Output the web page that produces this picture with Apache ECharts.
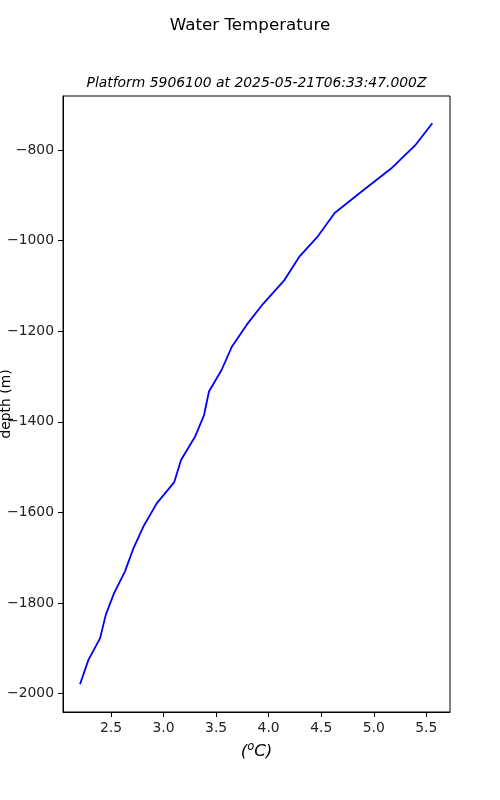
<!DOCTYPE html>
<html>
<head>
<meta charset="utf-8">
<script src="https://cdn.jsdelivr.net/npm/echarts@6/dist/echarts.min.js"></script>
<style>html,body{margin:0;padding:0;background:#fff}#c{width:500px;height:800px}</style>
</head>
<body>
<div id="c"></div>
<script>
const temperature = [5.557, 5.393, 5.165, 4.90, 4.628, 4.47, 4.29, 4.15, 3.945, 3.79, 3.648, 3.553, 3.432, 3.385, 3.299, 3.166, 3.102, 2.935, 2.808, 2.713, 2.633, 2.529, 2.45, 2.395, 2.284, 2.205];
const depth = [-741, -790, -841, -889, -939, -990, -1036, -1087, -1140, -1186, -1235, -1285, -1333, -1385, -1433, -1484, -1533, -1580, -1631, -1679, -1730, -1778, -1826, -1878, -1926, -1979];
const xTicks = [2.5, 3.0, 3.5, 4.0, 4.5, 5.0, 5.5];
const yTicks = [-2000, -1800, -1600, -1400, -1200, -1000, -800];

const chart = echarts.init(document.getElementById('c'), null, {renderer: 'canvas'});
const font = 'DejaVu Sans';
const fmtY = v => (v < 0 ? '\u2212' : '') + Math.abs(Math.round(v));
chart.setOption({
  animation: false,
  backgroundColor: '#fff',
  title: [
    {text: 'Water Temperature', left: 250, top: 17, padding: 0, textAlign: 'center',
     textStyle: {fontFamily: font, fontSize: 16.7, fontWeight: 'normal', color: '#000'}},
    {text: 'Platform 5906100 at 2025-05-21T06:33:47.000Z', left: 256.5, top: 76, padding: 0, textAlign: 'center',
     textStyle: {fontFamily: font, fontSize: 13.9, fontStyle: 'italic', fontWeight: 'normal', color: '#000'}}
  ],
  graphic: [{
    type: 'text', x: 6, y: 404, rotation: Math.PI / 2,
    style: {text: 'depth (m)', fontFamily: font, fontSize: 13.9, fill: '#000', align: 'center', verticalAlign: 'middle'}
  }],
  grid: {left: 63, right: 50, top: 96, bottom: 88, containLabel: false, outerBoundsMode: 'none',
         show: true, borderColor: '#000', borderWidth: 1, backgroundColor: 'transparent'},
  xAxis: {
    type: 'value', min: 2.043, max: 5.7255,
    name: '{p|(}{s|o}{p|C)}', nameLocation: 'middle', nameGap: 29,
    nameTextStyle: {rich: {
      p: {fontFamily: font, fontSize: 16.7, fontStyle: 'italic', color: '#000'},
      s: {fontFamily: font, fontSize: 11.5, fontStyle: 'italic', color: '#000', verticalAlign: 'top', padding: [0,0,9,0]}
    }},
    axisLine: {show: true, onZero: false, lineStyle: {color: '#000', width: 1}},
    axisTick: {show: true, customValues: xTicks, length: 5, lineStyle: {color: '#000'}},
    axisLabel: {customValues: xTicks, formatter: v => v.toFixed(1), fontFamily: font, fontSize: 13.9, color: '#222', margin: 9},
    splitLine: {show: false}
  },
  yAxis: {
    type: 'value', min: -2040.4, max: -680.8,
    axisLine: {show: true, onZero: false, lineStyle: {color: '#000', width: 1}},
    axisTick: {show: true, customValues: yTicks, length: 5, lineStyle: {color: '#000'}},
    axisLabel: {customValues: yTicks, formatter: fmtY, fontFamily: font, fontSize: 13.9, color: '#222', margin: 9},
    splitLine: {show: false}
  },
  series: [{
    type: 'line',
    data: temperature.map((t, i) => [t, depth[i]]),
    showSymbol: false, symbol: 'none',
    lineStyle: {color: '#0000ff', width: 1.8},
    clip: true
  }]
});
</script>
</body>
</html>
